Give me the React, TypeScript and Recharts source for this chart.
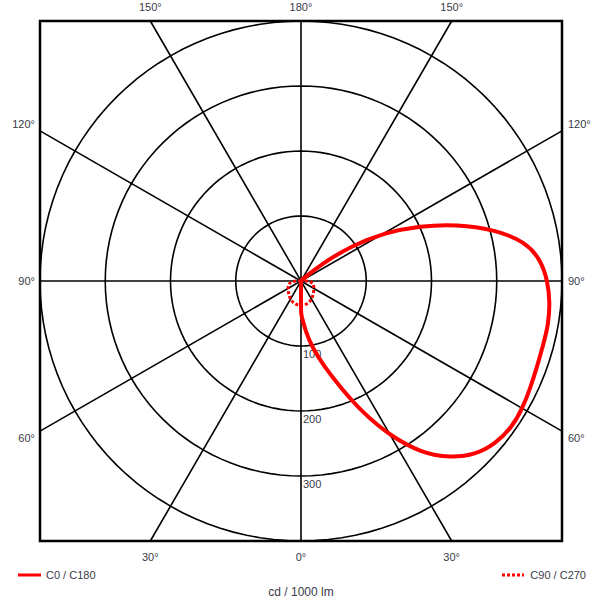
import React from 'react';
import {
  ScatterChart,
  Scatter,
  XAxis,
  YAxis,
  ReferenceLine,
  ReferenceArea,
  ReferenceDot,
  Legend,
} from 'recharts';

const gammaAngles = [
  0, 5, 10, 15, 20, 25, 30, 35, 40, 45, 50, 55, 60, 65, 70, 75, 80, 85, 90,
  95, 100, 105, 110, 115, 120, 125, 130, 135, 140, 145, 150, 155, 160, 165, 170, 175, 180,
];
const c0Values = [
  50, 78, 106, 135, 172, 224, 276, 323, 355, 378, 389, 394, 392, 388, 385, 384, 385, 383, 378,
  369, 349, 306, 255, 201, 149, 94, 40, 6, 0, 0, 0, 0, 0, 0, 0, 0, 0,
];
const c180Values = [
  50, 0, 0, 0, 0, 0, 0, 0, 0, 0, 0, 0, 0, 0, 0, 0, 0, 0, 0,
  0, 0, 0, 0, 0, 0, 0, 0, 0, 0, 0, 0, 0, 0, 0, 0, 0, 0,
];
const c90Angles = [0, 15, 30, 45, 60, 75, 90, 100];
const c90Values = [38, 37, 33, 27, 23, 20, 14, 0];
const c270Values = [38, 37, 33, 27, 23, 20, 14, 0];

const ringValues = [100, 200, 300, 400];
const ringLabels = ['100', '200', '300'];
const spokeAngles = [0, 30, 60, 90, 120, 150];
const topLabels = ['150°', '180°', '150°'];
const bottomLabels = ['30°', '0°', '30°'];
const sideLabels = ['60°', '90°', '120°'];
const unitLabel = 'cd / 1000 lm';
const seriesNames = ['C0 / C180', 'C90 / C270'];

const AXIS_MAX = 400;
const RED = '#ff0000';
const TEXT = '#3a3a48';
const FONT = '"Liberation Sans", Arial, sans-serif';
const rad = (d: number) => (d * Math.PI) / 180;

// side +1 = right half (C0 / C90), -1 = left half (C180 / C270)
const toXY = (value: number, g: number, side: number) => ({
  x: side * value * Math.sin(rad(g)),
  y: -value * Math.cos(rad(g)),
});

const c0c180Points = [
  ...gammaAngles.map((g, i) => toXY(c180Values[i], g, -1)).reverse(),
  ...gammaAngles.map((g, i) => toXY(c0Values[i], g, 1)),
];
const c90c270Points = [
  ...c90Angles.map((g, i) => toXY(c270Values[i], g, -1)).reverse(),
  ...c90Angles.map((g, i) => toXY(c90Values[i], g, 1)),
];

// grid circles sampled round the full turn
const ringPoints = ringValues.map((v) => {
  const pts = [];
  for (let d = 0; d <= 360; d += 3) pts.push(toXY(v, d, 1));
  return pts;
});

// spokes run to the frame edges
const spokeSegments = spokeAngles.map((a) => {
  const s = Math.sin(rad(a));
  const c = Math.cos(rad(a));
  const t = AXIS_MAX / Math.max(Math.abs(s), Math.abs(c));
  return [
    { x: -t * s, y: -t * c },
    { x: t * s, y: t * c },
  ];
});

const edge = AXIS_MAX * Math.tan(rad(30));
const edgeTicks = [-edge, 0, edge];
const sideTicks = [-edge * 1.045, 0, edge * 1.045];

const legendDash: Record<string, string | undefined> = {
  'C0 / C180': undefined,
  'C90 / C270': '3 2',
};

const renderLegend = (props: any) => {
  const payload = (props.payload || []).filter((p: any) => seriesNames.includes(p.value));
  return (
    <svg width={600} height={18} style={{ display: 'block' }}>
      {payload.map((entry: any, i: number) => {
        const dash = legendDash[entry.value];
        if (i === 0) {
          return (
            <g key={entry.value}>
              <line x1={18} x2={41} y1={8} y2={8} stroke={RED} strokeWidth={3} strokeDasharray={dash} />
              <text x={46} y={12} fontSize={11} fill={TEXT} fontFamily={FONT}>{entry.value}</text>
            </g>
          );
        }
        return (
          <g key={entry.value}>
            <line x1={502} x2={524} y1={8} y2={8} stroke={RED} strokeWidth={3} strokeDasharray={dash} />
            <text x={586} y={12} fontSize={11} fill={TEXT} fontFamily={FONT} textAnchor="end">{entry.value}</text>
          </g>
        );
      })}
    </svg>
  );
};

const noShape = () => <g />;
const tickStyle = { fontSize: 11, fill: TEXT, fontFamily: FONT };

export default function App() {
  return (
    <div style={{ position: 'absolute', left: 0, top: 0, width: 600, height: 603, background: '#fff', fontFamily: FONT }}>
      <ScatterChart width={600} height={603} margin={{ top: 0, right: 0, bottom: 0, left: 0 }}>
        <XAxis
          xAxisId="top"
          orientation="top"
          type="number"
          dataKey="x"
          domain={[-AXIS_MAX, AXIS_MAX]}
          allowDataOverflow
          ticks={edgeTicks}
          tickFormatter={(_v: number, i: number) => topLabels[i]}
          height={21}
          axisLine={false}
          tickLine={false}
          tickSize={0}
          tickMargin={10}
          tick={tickStyle}
        />
        <XAxis
          xAxisId="bottom"
          orientation="bottom"
          type="number"
          dataKey="x"
          domain={[-AXIS_MAX, AXIS_MAX]}
          allowDataOverflow
          ticks={edgeTicks}
          tickFormatter={(_v: number, i: number) => bottomLabels[i]}
          height={62}
          axisLine={false}
          tickLine={false}
          tickSize={0}
          tickMargin={12}
          tick={tickStyle}
          label={{ value: unitLabel, position: 'insideBottom', offset: 7, fontSize: 12, fill: TEXT, fontFamily: FONT }}
        />
        <YAxis
          yAxisId="left"
          orientation="left"
          type="number"
          dataKey="y"
          domain={[-AXIS_MAX, AXIS_MAX]}
          allowDataOverflow
          ticks={sideTicks}
          tickFormatter={(_v: number, i: number) => sideLabels[i]}
          width={40}
          axisLine={false}
          tickLine={false}
          tickSize={0}
          tickMargin={5}
          tick={tickStyle}
        />
        <YAxis
          yAxisId="right"
          orientation="right"
          type="number"
          dataKey="y"
          domain={[-AXIS_MAX, AXIS_MAX]}
          allowDataOverflow
          ticks={sideTicks}
          tickFormatter={(_v: number, i: number) => sideLabels[i]}
          width={38}
          axisLine={false}
          tickLine={false}
          tickSize={0}
          tickMargin={6}
          tick={tickStyle}
        />

        {ringPoints.map((pts, i) => (
          <Scatter
            key={`ring-${ringValues[i]}`}
            xAxisId="bottom"
            yAxisId="left"
            data={pts}
            line={{ stroke: '#000', strokeWidth: 1.6 }}
            shape={noShape}
            legendType="none"
            isAnimationActive={false}
          />
        ))}

        {spokeSegments.map((seg, i) => (
          <ReferenceLine
            key={`spoke-${spokeAngles[i]}`}
            xAxisId="bottom"
            yAxisId="left"
            segment={seg}
            stroke="#000"
            strokeWidth={1.6}
            ifOverflow="visible"
          />
        ))}

        <ReferenceArea
          xAxisId="bottom"
          yAxisId="left"
          x1={-AXIS_MAX}
          x2={AXIS_MAX}
          y1={-AXIS_MAX}
          y2={AXIS_MAX}
          fill="none"
          fillOpacity={0}
          stroke="#000"
          strokeWidth={2.5}
          ifOverflow="visible"
        />

        {ringLabels.map((label, i) => (
          <ReferenceDot
            key={`rl-${label}`}
            xAxisId="bottom"
            yAxisId="left"
            x={0}
            y={-ringValues[i]}
            r={0}
            fill="none"
            stroke="none"
            label={{
              content: (p: any) => (
                <text x={p.viewBox.x + 2} y={p.viewBox.y + 12} fontSize={11} fill={TEXT} fontFamily={FONT}>
                  {label}
                </text>
              ),
            }}
          />
        ))}

        <Scatter
          name={seriesNames[0]}
          xAxisId="bottom"
          yAxisId="left"
          data={c0c180Points}
          fill={RED}
          line={{ stroke: RED, strokeWidth: 4, strokeLinejoin: 'round' }}
          lineJointType="basis"
          shape={noShape}
          legendType="line"
          isAnimationActive={false}
        />
        <Scatter
          name={seriesNames[1]}
          xAxisId="bottom"
          yAxisId="left"
          data={c90c270Points}
          fill={RED}
          line={{ stroke: RED, strokeWidth: 3, strokeDasharray: '3 2' }}
          lineJointType="basis"
          shape={noShape}
          legendType="line"
          isAnimationActive={false}
        />

        <Legend
          layout="horizontal"
          verticalAlign="middle"
          align="center"
          content={renderLegend}
          wrapperStyle={{ left: 0, top: 567, width: 600, height: 18 }}
        />
      </ScatterChart>
    </div>
  );
}
